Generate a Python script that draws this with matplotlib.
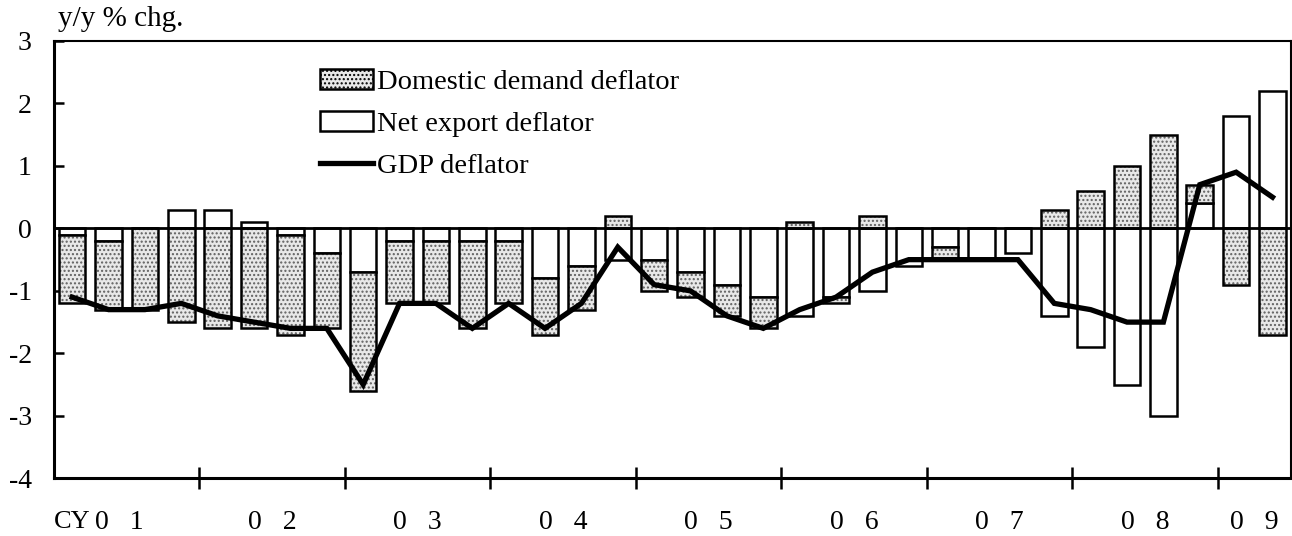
import matplotlib
matplotlib.use("Agg")
import matplotlib.pyplot as plt
import numpy as np
from matplotlib.patches import Patch
from matplotlib.lines import Line2D

plt.rcParams['font.family'] = ['Liberation Serif', 'DejaVu Serif']
plt.rcParams['axes.unicode_minus'] = False
plt.rcParams['hatch.linewidth'] = 1.0

# quarterly, CY2001 Q1 .. CY2009 Q2
net_export = [-0.1, -0.2, 0.0, 0.3, 0.3, 0.1, -0.1, -0.4,
              -0.7, -0.2, -0.2, -0.2, -0.2, -0.8, -0.6, -0.5,
              -0.5, -0.7, -0.9, -1.1, -1.4, -1.1, -1.0, -0.6,
              -0.3, -0.5, -0.4, -1.4, -1.9, -2.5, -3.0, 0.4,
              1.8, 2.2]
domestic = [-1.1, -1.1, -1.3, -1.5, -1.6, -1.6, -1.6, -1.2,
            -1.9, -1.0, -1.0, -1.4, -1.0, -0.9, -0.7, 0.2,
            -0.5, -0.4, -0.5, -0.5, 0.1, -0.1, 0.2, 0.0,
            -0.2, 0.0, 0.0, 0.3, 0.6, 1.0, 1.5, 0.3,
            -0.9, -1.7]
gdp = [-1.1, -1.3, -1.3, -1.2, -1.4, -1.5, -1.6, -1.6,
       -2.5, -1.2, -1.2, -1.6, -1.2, -1.6, -1.2, -0.3,
       -0.9, -1.0, -1.4, -1.6, -1.3, -1.1, -0.7, -0.5,
       -0.5, -0.5, -0.5, -1.2, -1.3, -1.5, -1.5, 0.7,
       0.9, 0.5]
year_labels = ["0   1", "0   2", "0   3", "0   4", "0   5", "0   6", "0   7", "0   8", "0   9"]

n = len(gdp)
x = np.arange(n)
net = np.array(net_export)
dom = np.array(domestic)
# excel-like stacking: domestic goes on top of net export when same sign
dom_bottom = np.where(np.sign(dom) == np.sign(net), net, 0.0)

fig = plt.figure(figsize=(12.92, 5.36), dpi=100)
ax = fig.add_axes([54/1292, 1-478.3/536, 1236.7/1292, 437.3/536])

w = 0.73
ax.bar(x, net, w, color='white', edgecolor='black', linewidth=1.8, zorder=2)
ax.bar(x, dom, w, bottom=dom_bottom, color='#e8e8e8', edgecolor='#606060',
       hatch='....', linewidth=0, zorder=2)
ax.bar(x, dom, w, bottom=dom_bottom, color='none', edgecolor='black',
       linewidth=1.8, zorder=3)
ax.axhline(0, color='black', linewidth=2, zorder=4)
ax.plot(x, gdp, color='black', linewidth=3.8, zorder=5, solid_joinstyle='miter')

ax.set_xlim(-0.5, n - 0.5)
ax.set_ylim(-4, 3)
ax.set_yticks(range(-4, 4))
ax.set_xticks(np.arange(3.5, n - 0.5, 4))
ax.set_xticklabels([])
ax.tick_params(axis='y', direction='in', length=7, width=1.8, labelsize=20, pad=16)
ax.tick_params(axis='x', direction='inout', length=16, width=1.8)
for s in ['left', 'bottom']:
    ax.spines[s].set_linewidth(2.2)
for s in ['top', 'right']:
    ax.spines[s].set_linewidth(1.5)

# year labels under the axis
trans = ax.get_xaxis_transform()
for i, lab in enumerate(year_labels):
    xc = 4 * i + 1.5
    if i == 0:
        xc = 1.3
    if i == len(year_labels) - 1:
        xc = (4 * i + n - 1) / 2
    ax.text(xc, -0.1, lab, transform=trans, ha='center', va='center', fontsize=20)
ax.text(-0.5, -0.1, "CY", transform=trans, ha='left', va='center', fontsize=19)

fig.text(58/1292, 1-19/536, "y/y % chg.", ha='left', va='center', fontsize=21)

handles = [Patch(facecolor='#e8e8e8', edgecolor='black', hatch='....', linewidth=1.8),
           Patch(facecolor='white', edgecolor='black', linewidth=1.8),
           Line2D([0], [0], color='black', linewidth=3.8)]
ax.legend(handles, ["Domestic demand deflator", "Net export deflator", "GDP deflator"],
          loc='upper left', bbox_to_anchor=(0.215, 0.937), frameon=False,
          fontsize=20.5, handlelength=1.86, handleheight=0.75, handletextpad=0.14,
          labelspacing=0.55, borderpad=0, borderaxespad=0)

fig.savefig("out.png", dpi=100)
